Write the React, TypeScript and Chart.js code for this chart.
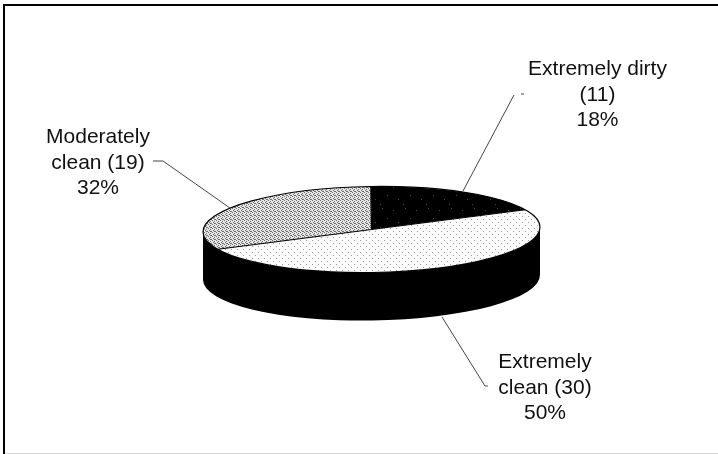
import React, { useEffect, useRef } from "react";
import { Chart, registerables } from "chart.js";

Chart.register(...registerables);

const categories = ["Extremely dirty", "Extremely clean", "Moderately clean"];
const counts = [11, 30, 19];
const labelLines = [
  ["Extremely dirty", "(11)", "18%"],
  ["Extremely", "clean (30)", "50%"],
  ["Moderately", "clean (19)", "32%"],
];
const labelCenters = [
  [597.5, 95],
  [545, 388],
  [98, 163],
];
const leaderLines = [
  [[463, 191], [514, 95]],
  [[521, 94], [524, 94]],
  [[442, 317], [485, 386], [488, 386]],
  [[230, 208], [163, 161], [153, 161]],
];

const PIE_CX = 371.5;
const PIE_CY = 229.5;
const RX = 168.5;
const RY = 43;
const DEPTH = 48;
const TILT = -0.0148;
const SQUASH = RY / RX;

function tile(size: number, bg: string, fg: string, cells: number[][]) {
  const c = document.createElement("canvas");
  c.width = size;
  c.height = size;
  const x = c.getContext("2d")!;
  x.fillStyle = bg;
  x.fillRect(0, 0, size, size);
  x.fillStyle = fg;
  cells.forEach(([a, b]) => x.fillRect(a, b, 1, 1));
  return x.createPattern(c, "repeat")!;
}

function makePatterns() {
  const dark = tile(23, "#000", "#4a4a4a", [[2, 3], [14, 1], [19, 11], [7, 15], [12, 20]]);
  const sparse = tile(6, "#fcfcfc", "#999", [[0, 0], [3, 3]]);
  const dense = tile(4, "#e6e6e6", "#6e6e6e", [[0, 0], [2, 1], [1, 2], [3, 3], [2, 3]]);
  return [dark, sparse, dense];
}

const pie3d = {
  id: "pie3d",
  beforeDatasetsDraw(chart: any) {
    const arc = chart.getDatasetMeta(0).data[0];
    const ctx = chart.ctx;
    const r = arc.outerRadius;
    const ry = r * SQUASH;
    // the side wall, sized from the library's own arc geometry
    ctx.save();
    ctx.fillStyle = "#000";
    ctx.beginPath();
    ctx.ellipse(PIE_CX, PIE_CY + DEPTH, r, ry, TILT, 0, Math.PI);
    ctx.lineTo(PIE_CX - r, PIE_CY);
    ctx.ellipse(PIE_CX, PIE_CY, r, ry, TILT, Math.PI, 0, true);
    ctx.closePath();
    ctx.fill();
    ctx.restore();
    // squash the pie's top face
    ctx.save();
    ctx.translate(PIE_CX, PIE_CY);
    ctx.rotate(TILT);
    ctx.scale(1, SQUASH);
    ctx.translate(-arc.x, -arc.y);
    const inv = ctx.getTransform().inverse();
    chart.data.datasets[0].backgroundColor.forEach((p: CanvasPattern) => p.setTransform(inv));
  },
  afterDatasetsDraw(chart: any) {
    const ctx = chart.ctx;
    const arcs = chart.getDatasetMeta(0).data;
    // face outline traced in squashed space, stroked in page space for an even width
    const a0 = arcs[0];
    ctx.beginPath();
    arcs.forEach((a: any) => {
      ctx.moveTo(a0.x, a0.y);
      ctx.lineTo(a0.x + a.outerRadius * Math.cos(a.startAngle), a0.y + a.outerRadius * Math.sin(a.startAngle));
    });
    ctx.moveTo(a0.x + a0.outerRadius, a0.y);
    ctx.arc(a0.x, a0.y, a0.outerRadius, 0, Math.PI * 2);
    ctx.restore();
    ctx.save();
    ctx.strokeStyle = "#000";
    ctx.lineWidth = 1.2;
    ctx.stroke();
    ctx.strokeStyle = "#444";
    ctx.lineWidth = 1;
    leaderLines.forEach((pts) => {
      ctx.beginPath();
      pts.forEach(([x, y], i) => (i ? ctx.lineTo(x, y) : ctx.moveTo(x, y)));
      ctx.stroke();
    });
    ctx.fillStyle = "#111";
    ctx.font = '21px "Liberation Sans", Arial, sans-serif';
    ctx.textAlign = "center";
    ctx.textBaseline = "middle";
    labelLines.forEach((lines, i) => {
      lines.forEach((t, j) => ctx.fillText(t, labelCenters[i][0], labelCenters[i][1] + (j - 1) * 25.7));
    });
    // outer frame
    ctx.fillStyle = "#000";
    ctx.fillRect(3, 4, 2, 450);
    ctx.fillRect(3, 4, 715, 2);
    ctx.fillStyle = "#d8d8d8";
    ctx.fillRect(5, 453, 713, 1);
    ctx.restore();
  },
};

export default function App() {
  const ref = useRef<HTMLCanvasElement>(null);
  useEffect(() => {
    document.body.style.margin = "0";
    const patterns = makePatterns();
    const chart = new Chart(ref.current!, {
      type: "pie",
      data: {
        labels: categories,
        datasets: [
          {
            data: counts,
            backgroundColor: patterns as any,
            borderWidth: 0,
            radius: RX,
          } as any,
        ],
      },
      options: {
        responsive: false,
        animation: false,
        rotation: 0,
        plugins: { legend: { display: false }, tooltip: { enabled: false } },
      },
      plugins: [pie3d],
    });
    return () => chart.destroy();
  }, []);
  return (
    <canvas
      ref={ref}
      width={718}
      height={454}
      style={{ display: "block", width: 718, height: 454, background: "#fff" }}
    />
  );
}
